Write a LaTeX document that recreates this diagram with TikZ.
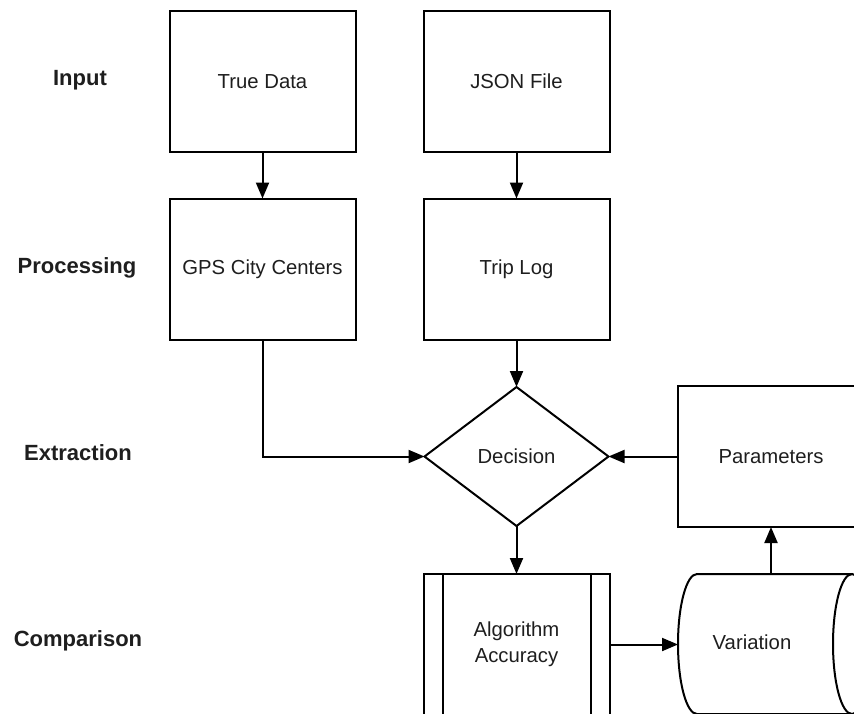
\documentclass[tikz,border=0pt]{standalone}
\usepackage{fontspec}
\setmainfont{Liberation Sans}
\usetikzlibrary{shapes.geometric,arrows.meta}
\definecolor{txt}{RGB}{30,30,30}
\tikzset{
  every node/.style={text=txt},
  box/.style={draw=black, line width=2pt, minimum width=186pt, minimum height=141pt, inner sep=0pt, outer sep=0pt, font=\fontsize{20.3}{26}\selectfont, align=center},
  lane/.style={font=\fontsize{22}{26}\selectfont\bfseries, inner sep=0pt},
  dec/.style={draw=black, line width=2pt, shape=diamond, aspect=1.32, minimum width=184pt, minimum height=139pt, inner sep=0pt, outer sep=0pt, font=\fontsize{20.3}{26}\selectfont},
  conn/.style={draw=black, line width=2pt, -{Triangle[length=16pt,width=13pt]}}
}
\begin{document}
\begin{tikzpicture}[x=1pt,y=-1pt]
\useasboundingbox (0,0) rectangle (854,713);
\clip (0,0) rectangle (854,713);
% lane labels
\node[lane] (lin) at (80,80) {Input};
\node[lane] (lpr) at (77,268) {Processing};
\node[lane] (lex) at (78,453) {Extraction};
\node[lane] (lco) at (78,641) {Comparison};
% boxes
\node[box] (td) at (262.5,81.5) {True Data};
\node[box] (js) at (516.5,81.5) {JSON File};
\node[box] (gps) at (262.5,269) {GPS City Centers};
\node[box] (tl) at (516.5,269) {Trip Log};
\node[dec] (dc) at (516.5,456.5) {Decision};
\node[box] (par) at (771,456.5) {Parameters};
\node[box] (alg) at (516.5,644.5) {Algorithm\\Accuracy};
\draw[line width=2pt] ([xshift=19pt]alg.north west) -- ([xshift=19pt]alg.south west);
\draw[line width=2pt] ([xshift=-19pt]alg.north east) -- ([xshift=-19pt]alg.south east);
% cylinder
\node[minimum width=193pt, minimum height=140pt, inner sep=0pt, outer sep=0pt] (var) at (774.5,644) {};
\draw[line width=2pt, fill=white] (852,574) -- (697,574) .. controls (686.5,574) and (678,605.3) .. (678,644) .. controls (678,682.7) and (686.5,714) .. (697,714) -- (852,714);
\draw[line width=2pt] (852,644) ellipse [x radius=19, y radius=70];
\node[font=\fontsize{20.3}{26}\selectfont, inner sep=0pt] (vart) at (752,642) {Variation};
% connectors
\draw[conn] (td.south) -- (gps.north);
\draw[conn] (js.south) -- (tl.north);
\draw[conn] (gps.south) |- (dc.west);
\draw[conn] (tl.south) -- (dc.north);
\draw[conn] (par.west) -- (dc.east);
\draw[conn] (dc.south) -- (alg.north);
\draw[conn] (alg.east) -- (alg.east -| var.west);
\draw[conn] (par.south |- var.north) -- (par.south);
\end{tikzpicture}
\end{document}
